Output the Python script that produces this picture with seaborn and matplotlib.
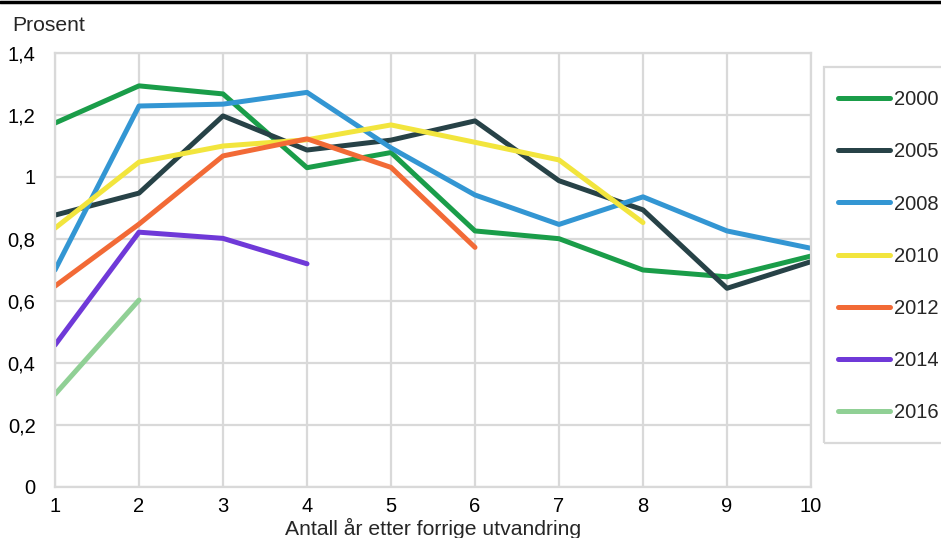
import pandas as pd
import seaborn as sns
import matplotlib.pyplot as plt
from matplotlib.lines import Line2D
from matplotlib.patches import Rectangle

years = ["2000", "2005", "2008", "2010", "2012", "2014", "2016"]
colors = ["#1a9d49", "#274247", "#3396d3", "#f2e53d", "#f26a36", "#6f39d8", "#90d095"]

v2000 = [1.174, 1.294, 1.268, 1.030, 1.079, 0.826, 0.801, 0.700, 0.678, 0.745]
v2005 = [0.877, 0.948, 1.197, 1.087, 1.119, 1.181, 0.988, 0.894, 0.641, 0.727]
v2008 = [0.700, 1.229, 1.235, 1.273, 1.094, 0.942, 0.847, 0.936, 0.826, 0.770]
v2010 = [0.835, 1.048, 1.100, 1.120, 1.168, 1.112, 1.055, 0.853]
v2012 = [0.648, 0.848, 1.068, 1.123, 1.031, 0.773]
v2014 = [0.458, 0.822, 0.802, 0.720]
v2016 = [0.299, 0.603]

series = [v2000, v2005, v2008, v2010, v2012, v2014, v2016]
rows = []
for yr, vals in zip(years, series):
    for i, v in enumerate(vals):
        rows.append({"aar": i + 1, "prosent": v, "kohort": yr})
df = pd.DataFrame(rows)

sns.set_style("white")
plt.rcParams["font.family"] = ["Liberation Sans", "DejaVu Sans"]

fig = plt.figure(figsize=(9.41, 5.38), dpi=100)
ax = fig.add_axes([55 / 941, 51 / 538, 756 / 941, 434 / 538])

grid_c = "#d9d9d9"
lw = 3.6
sns.lineplot(data=df, x="aar", y="prosent", hue="kohort", hue_order=years,
             palette=dict(zip(years, colors)), linewidth=lw,
             solid_capstyle="round", ax=ax, legend=False)

ax.set_xlim(1, 10)
ax.set_ylim(0, 1.4)
ax.set_xticks(range(1, 11))
ax.set_yticks([0, 0.2, 0.4, 0.6, 0.8, 1.0, 1.2, 1.4])
ax.set_yticklabels(["0", "0,2", "0,4", "0,6", "0,8", "1", "1,2", "1,4"])
ax.grid(True, color=grid_c, linewidth=1.6)
ax.set_axisbelow(True)
for s in ax.spines.values():
    s.set_color(grid_c)
    s.set_linewidth(1.6)
ax.tick_params(length=0, labelsize=14.5, colors="#000000")
ax.tick_params(axis="y", pad=14)
ax.tick_params(axis="x", pad=7)
ax.set_xlabel("")
ax.set_ylabel("")

fig.text(12 / 941, 1 - 31 / 538, "Prosent", fontsize=15.2, va="baseline", ha="left")
fig.text(433 / 941, 1 - 535 / 538, "Antall år etter forrige utvandring",
         fontsize=15.2, va="baseline", ha="center")

# legend frame and entries
fig.patches.append(Rectangle((824 / 941, 1 - 443 / 538), 200 / 941, 376 / 538,
                             transform=fig.transFigure, fill=False,
                             edgecolor=grid_c, linewidth=1.6))
handles = [Line2D([0], [0], color=c, linewidth=lw, solid_capstyle="round") for c in colors]
fig.legend(handles, years, loc="upper left",
           bbox_to_anchor=(828 / 941, 1 - 80 / 538), frameon=False,
           borderpad=0, handlelength=2.6, handletextpad=0.2,
           labelspacing=1.65, fontsize=14.5)

# black line along the top edge
fig.add_artist(Line2D([0, 1], [1 - 1.5 / 538, 1 - 1.5 / 538],
                      transform=fig.transFigure, color="black", linewidth=2.5))

fig.savefig("out.png", dpi=100)
